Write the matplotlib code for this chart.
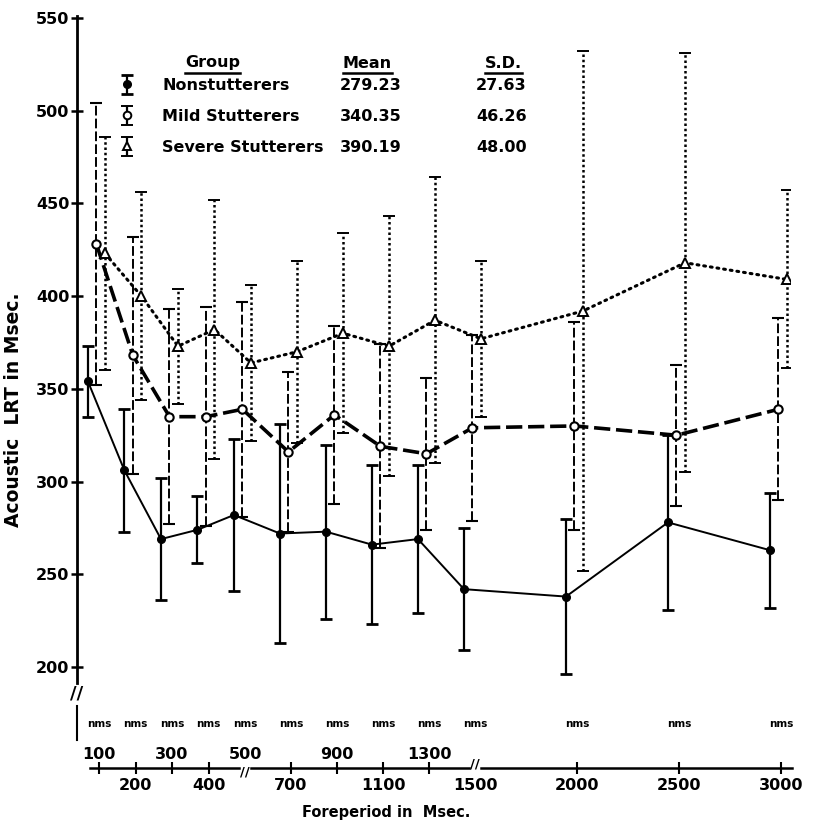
import numpy as np
import matplotlib
matplotlib.use("Agg")
import matplotlib.pyplot as plt
from matplotlib.transforms import ScaledTranslation
from matplotlib.lines import Line2D
from matplotlib.container import ErrorbarContainer
from matplotlib.legend_handler import HandlerErrorbar

# -----------------------------
# DATA
# -----------------------------
foreperiod = [100, 200, 300, 400, 500, 700, 900, 1100, 1300, 1500, 2000, 2500, 3000]

non_mean = [354, 306, 269, 274, 282, 272, 273, 266, 269, 242, 238, 278, 263]
non_sd = [19, 33, 33, 18, 41, 59, 47, 43, 40, 33, 42, 47, 31]

mild_mean = [428, 368, 335, 335, 339, 316, 336, 319, 315, 329, 330, 325, 339]
mild_sd = [76, 64, 58, 59, 58, 43, 48, 55, 41, 50, 56, 38, 49]

severe_mean = [423, 400, 373, 382, 364, 370, 380, 373, 387, 377, 392, 418, 409]
severe_sd = [63, 56, 31, 70, 42, 49, 54, 70, 77, 42, 140, 113, 48]

groups = ["Nonstutterers", "Mild Stutterers", "Severe Stutterers"]
group_mean = ["279.23", "340.35", "390.19"]
group_sd = ["27.63", "46.26", "48.00"]

y_ticks = [200, 250, 300, 350, 400, 450, 500, 550]
upper_labels = [100, 300, 500, 900, 1300]
lower_labels = [200, 400, 700, 1100, 1500, 2000, 2500, 3000]
tick_marks = [100, 200, 300, 400, 700, 900, 1100, 1300, 2000, 2500, 3000]
axis_breaks = [500, 1500]


# -----------------------------
# BROKEN FOREPERIOD SCALE
# 100-500 by 100, 500-1500 by 200, 1500-3000 by 500
# -----------------------------
knots = [0, 100, 500, 1500, 3000, 3500]
knot_pos = [-36.5, 0, 146, 376, 682, 784]


def fwd(x):
    return np.interp(x, knots, knot_pos)


def inv(u):
    return np.interp(u, knot_pos, knots)


W, H = 814, 823
BOLD = dict(fontweight="bold", family="DejaVu Sans")

fig = plt.figure(figsize=(W / 100, H / 100), dpi=100)

ax = fig.add_axes([77 / W, 1 - 683 / H, 713.4 / W, 666.9 / H])
ax.set_xscale("function", functions=(fwd, inv))
ax.set_xlim(70, 3100)
ax.set_ylim(191.4, 551)
for s in ["top", "right", "bottom"]:
    ax.spines[s].set_visible(False)
ax.spines["left"].set_linewidth(2)
ax.set_xticks([])
ax.set_yticks(y_ticks)
ax.tick_params(axis="y", direction="inout", length=9, width=1.8, labelsize=11.5, pad=1)
for lab in ax.get_yticklabels():
    lab.set_fontweight("bold")


def shifted(px):
    return ax.transData + ScaledTranslation(px / 100, 0, fig.dpi_scale_trans)


# -----------------------------
# SERIES
# -----------------------------
c_non = ax.errorbar(foreperiod, non_mean, yerr=non_sd, color="black",
                    marker="o", ms=5.5, ls="-", lw=1.4,
                    elinewidth=1.6, capsize=4, capthick=2,
                    transform=shifted(0))

c_mild = ax.errorbar(foreperiod, mild_mean, yerr=mild_sd, color="black",
                     marker="o", ms=6, mfc="white", mew=1.5,
                     ls=(0, (4.5, 1.6)), lw=2.6,
                     elinewidth=1.4, capsize=4, capthick=2,
                     transform=shifted(8.5))
c_mild[2][0].set_linestyle((0, (5, 1.6)))

c_sev = ax.errorbar(foreperiod, severe_mean, yerr=severe_sd, color="black",
                    marker="^", ms=6.5, mfc="white", mew=1.4,
                    ls=(0, (0.6, 1.6)), lw=2.2, dash_capstyle="round",
                    elinewidth=1.8, capsize=4, capthick=2,
                    transform=shifted(17))
c_sev[2][0].set_linestyle((0, (1, 1.1)))

# y-axis break
fig.text(77 / W, 1 - 693 / H, "//", ha="center", va="center", fontsize=13, **BOLD)
fig.add_artist(Line2D([77 / W, 77 / W], [1 - 706 / H, 1 - 740 / H], color="black", lw=1.5))


# -----------------------------
# LEGEND TABLE
# -----------------------------
dummy = fig.add_axes([0, 0, 0.01, 0.01])
dummy.set_visible(False)
proxies = [
    dummy.errorbar([1], [1], yerr=[1], color="black", marker="o", ms=5.5, ls="none",
                   elinewidth=1.6, capsize=4, capthick=2),
    dummy.errorbar([1], [1], yerr=[1], color="black", marker="o", ms=5.5, mfc="white",
                   mew=1.4, ls="none", elinewidth=1.6, capsize=4, capthick=2),
    dummy.errorbar([1], [1], yerr=[1], color="black", marker="^", ms=6, mfc="white",
                   mew=1.4, ls="none", elinewidth=1.6, capsize=4, capthick=2),
]
leg = fig.legend(handles=proxies, labels=groups, loc="upper left",
                 bbox_to_anchor=(119 / W, 1 - 78 / H), frameon=False,
                 borderpad=0, borderaxespad=0, handlelength=1.0, handletextpad=1.7,
                 labelspacing=1.0, numpoints=1,
                 prop=dict(weight="bold", size=11.5, family="DejaVu Sans"),
                 handler_map={ErrorbarContainer: HandlerErrorbar(xerr_size=0.3, yerr_size=0.6)})

fig.canvas.draw()
renderer = fig.canvas.get_renderer()
for txt, m, sd in zip(leg.get_texts(), group_mean, group_sd):
    bb = txt.get_window_extent(renderer)
    yc = (bb.y0 + bb.y1) / 2 / H
    fig.text(340 / W, yc, m, ha="left", va="center", fontsize=11.5, **BOLD)
    fig.text(476 / W, yc, sd, ha="left", va="center", fontsize=11.5, **BOLD)

for label, x in [("Group", 185), ("Mean", 343), ("S.D.", 485)]:
    t = fig.text(x / W, 1 - 63 / H, label, ha="left", va="center", fontsize=11.5, **BOLD)
    bb = t.get_window_extent(renderer)
    fig.add_artist(Line2D([bb.x0 / W, bb.x1 / W], [1 - 73 / H, 1 - 73 / H], color="black", lw=1.8))


# -----------------------------
# BOTTOM FOREPERIOD AXIS
# -----------------------------
ax2 = fig.add_axes([(77.05 + 11) / W, 1 - 768 / H, 713.4 / W, 0.0005])
ax2.set_xscale("function", functions=(fwd, inv))
ax2.set_xlim(70, 3100)
ax2.set_ylim(0, 1)
for s in ax2.spines.values():
    s.set_visible(False)
ax2.patch.set_visible(False)
ax2.set_yticks([])
ax2.set_xticks(tick_marks)
ax2.tick_params(axis="x", direction="inout", length=9, width=1.5, labelbottom=False)

xt = ax2.get_xaxis_transform()
for a, b in [(75, 484), (526, 1474), (1529, 3054)]:
    ax2.plot([a, b], [0, 0], color="black", lw=1.8, transform=xt, clip_on=False)
# break marks sit on the side away from that break's label
for v, dy in zip(axis_breaks, [-3, 3]):
    ax2.annotate("//", xy=(v, 0), xycoords=xt, xytext=(0, dy), textcoords="offset points",
                 ha="center", va="center", fontsize=9.5, **BOLD)
for v in lower_labels:
    ax2.annotate(str(v), xy=(v, 0), xycoords=xt, xytext=(0, -12.5), textcoords="offset points",
                 ha="center", va="center", fontsize=11.5, **BOLD)
for v in upper_labels:
    ax2.annotate(str(v), xy=(v, 0), xycoords=xt, xytext=(0, 10), textcoords="offset points",
                 ha="center", va="center", fontsize=11.5, **BOLD)
for v in foreperiod:
    ax2.annotate("nms", xy=(v, 0), xycoords=xt, xytext=(0, 32), textcoords="offset points",
                 ha="center", va="center", fontsize=7.5, **BOLD)

fig.text(386 / W, 1 - 812 / H, "Foreperiod in  Msec.", ha="center", va="center", fontsize=10.5, **BOLD)
fig.text(14 / W, 1 - 410 / H, "Acoustic  LRT in Msec.", ha="center", va="center",
         rotation=90, fontsize=13.5, **BOLD)

fig.savefig("out.png", dpi=100)
